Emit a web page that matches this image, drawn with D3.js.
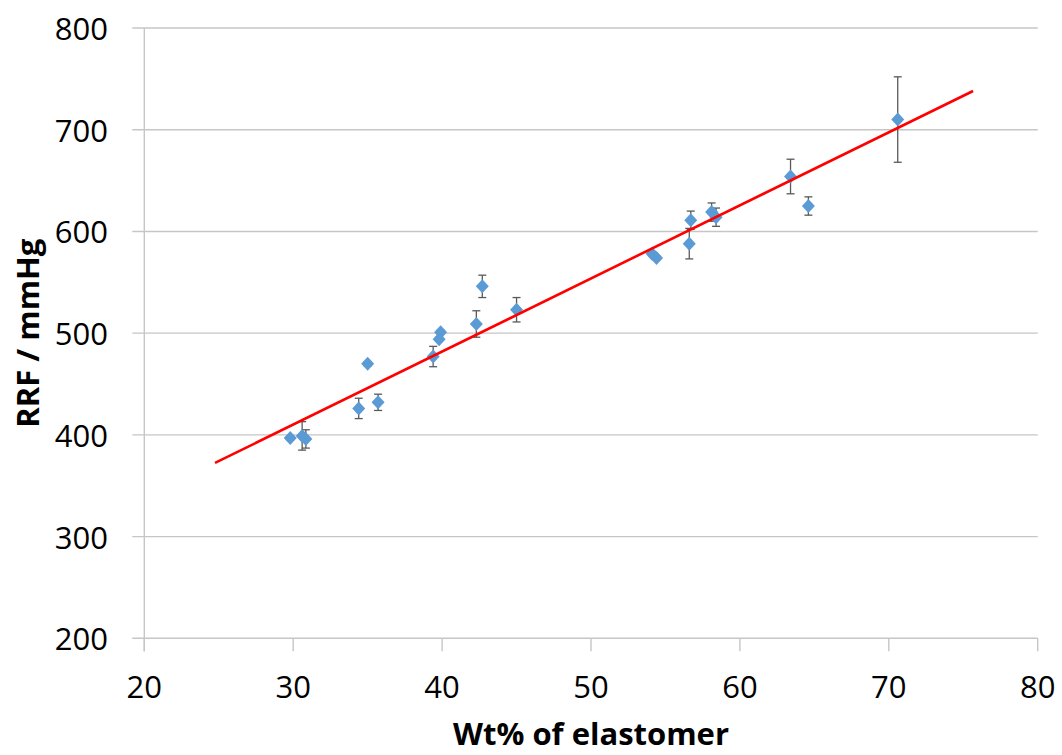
<!DOCTYPE html>
<html>
<head>
<meta charset="utf-8">
<script src="https://cdn.jsdelivr.net/npm/d3@7"></script>
<style>
  html, body { margin: 0; padding: 0; background: #fff; }
  svg { display: block; }
  text { font-family: "Open Sans", "Noto Sans", sans-serif; fill: #000; }
</style>
</head>
<body>
<svg id="chart" width="1062" height="755"></svg>
<script>
// ---- data ----
const xTicks = [20, 30, 40, 50, 60, 70, 80];
const yTicks = [200, 300, 400, 500, 600, 700, 800];
const wt  = [29.8, 30.6, 30.85, 34.4, 35.0, 35.7, 39.4, 39.8, 39.9, 42.3, 42.7, 45.0, 54.1, 54.4, 56.6, 56.7, 58.1, 58.4, 63.4, 64.6, 70.6];
const rrf = [397, 399, 396, 426, 470, 432, 477, 494, 501, 509, 546, 523, 578, 574, 588, 611, 619, 614, 654, 625, 710];
const err = [2, 14, 9, 10, 2, 8, 10, 2, 2, 13, 11, 12, 2, 2, 15, 9, 9, 9, 17, 9, 42];
const fitX = [24.75, 75.66];
const fitY = [372.4, 738.1];
const xTitle = "Wt% of elastomer";
const yTitle = "RRF / mmHg";

// ---- layout ----
const svg = d3.select("#chart");
const L = 144.3, R = 1037.7, T = 28, B = 638.3;
const x = d3.scaleLinear().domain([20, 80]).range([L, R]);
const y = d3.scaleLinear().domain([200, 800]).range([B, T]);
const gridColor = "#C6C6C6";

// gridlines
svg.append("g").selectAll("line").data(yTicks).join("line")
  .attr("x1", L - 12).attr("x2", R)
  .attr("y1", d => y(d)).attr("y2", d => y(d))
  .attr("stroke", gridColor).attr("stroke-width", 1.4);

// y axis line
svg.append("line").attr("x1", L).attr("x2", L).attr("y1", T).attr("y2", B + 13)
  .attr("stroke", gridColor).attr("stroke-width", 1.4);

// x ticks
svg.append("g").selectAll("line").data(xTicks).join("line")
  .attr("x1", d => x(d)).attr("x2", d => x(d))
  .attr("y1", B).attr("y2", B + 13)
  .attr("stroke", gridColor).attr("stroke-width", 1.4);

// tick labels
svg.append("g").selectAll("text").data(yTicks).join("text")
  .attr("x", 108).attr("y", d => y(d))
  .attr("text-anchor", "end").attr("dominant-baseline", "central")
  .style("font-size", "31px").text(d => d);
svg.append("g").selectAll("text").data(xTicks).join("text")
  .attr("x", d => x(d)).attr("y", 686)
  .attr("text-anchor", "middle").attr("dominant-baseline", "central")
  .style("font-size", "31px").text(d => d);

// axis titles
svg.append("text").attr("x", (L + R) / 2).attr("y", 745)
  .attr("text-anchor", "middle")
  .style("font-size", "31px").style("font-weight", "bold").text(xTitle);
svg.append("text").attr("transform", `translate(39,${(T + B) / 2}) rotate(-90)`)
  .attr("text-anchor", "middle")
  .style("font-size", "31px").style("font-weight", "bold").text(yTitle);

// data
const pts = wt.map((v, i) => ({ x: v, y: rrf[i], e: err[i] }));

// error bars
const eb = svg.append("g").attr("stroke", "#595959").attr("stroke-width", 1.3);
pts.forEach(p => {
  const cx = x(p.x), y1 = y(p.y + p.e), y2 = y(p.y - p.e);
  eb.append("line").attr("x1", cx).attr("x2", cx).attr("y1", y1).attr("y2", y2);
  eb.append("line").attr("x1", cx - 4).attr("x2", cx + 4).attr("y1", y1).attr("y2", y1);
  eb.append("line").attr("x1", cx - 4).attr("x2", cx + 4).attr("y1", y2).attr("y2", y2);
});

// markers
svg.append("g").selectAll("path").data(pts).join("path")
  .attr("d", p => {
    const cx = x(p.x), cy = y(p.y);
    return `M${cx},${cy - 7}L${cx + 6.5},${cy}L${cx},${cy + 7}L${cx - 6.5},${cy}Z`;
  })
  .attr("fill", "#5B9BD5");

// trend line
svg.append("line")
  .attr("x1", x(fitX[0])).attr("y1", y(fitY[0]))
  .attr("x2", x(fitX[1])).attr("y2", y(fitY[1]))
  .attr("stroke", "#FF0000").attr("stroke-width", 2.6);
</script>
</body>
</html>
